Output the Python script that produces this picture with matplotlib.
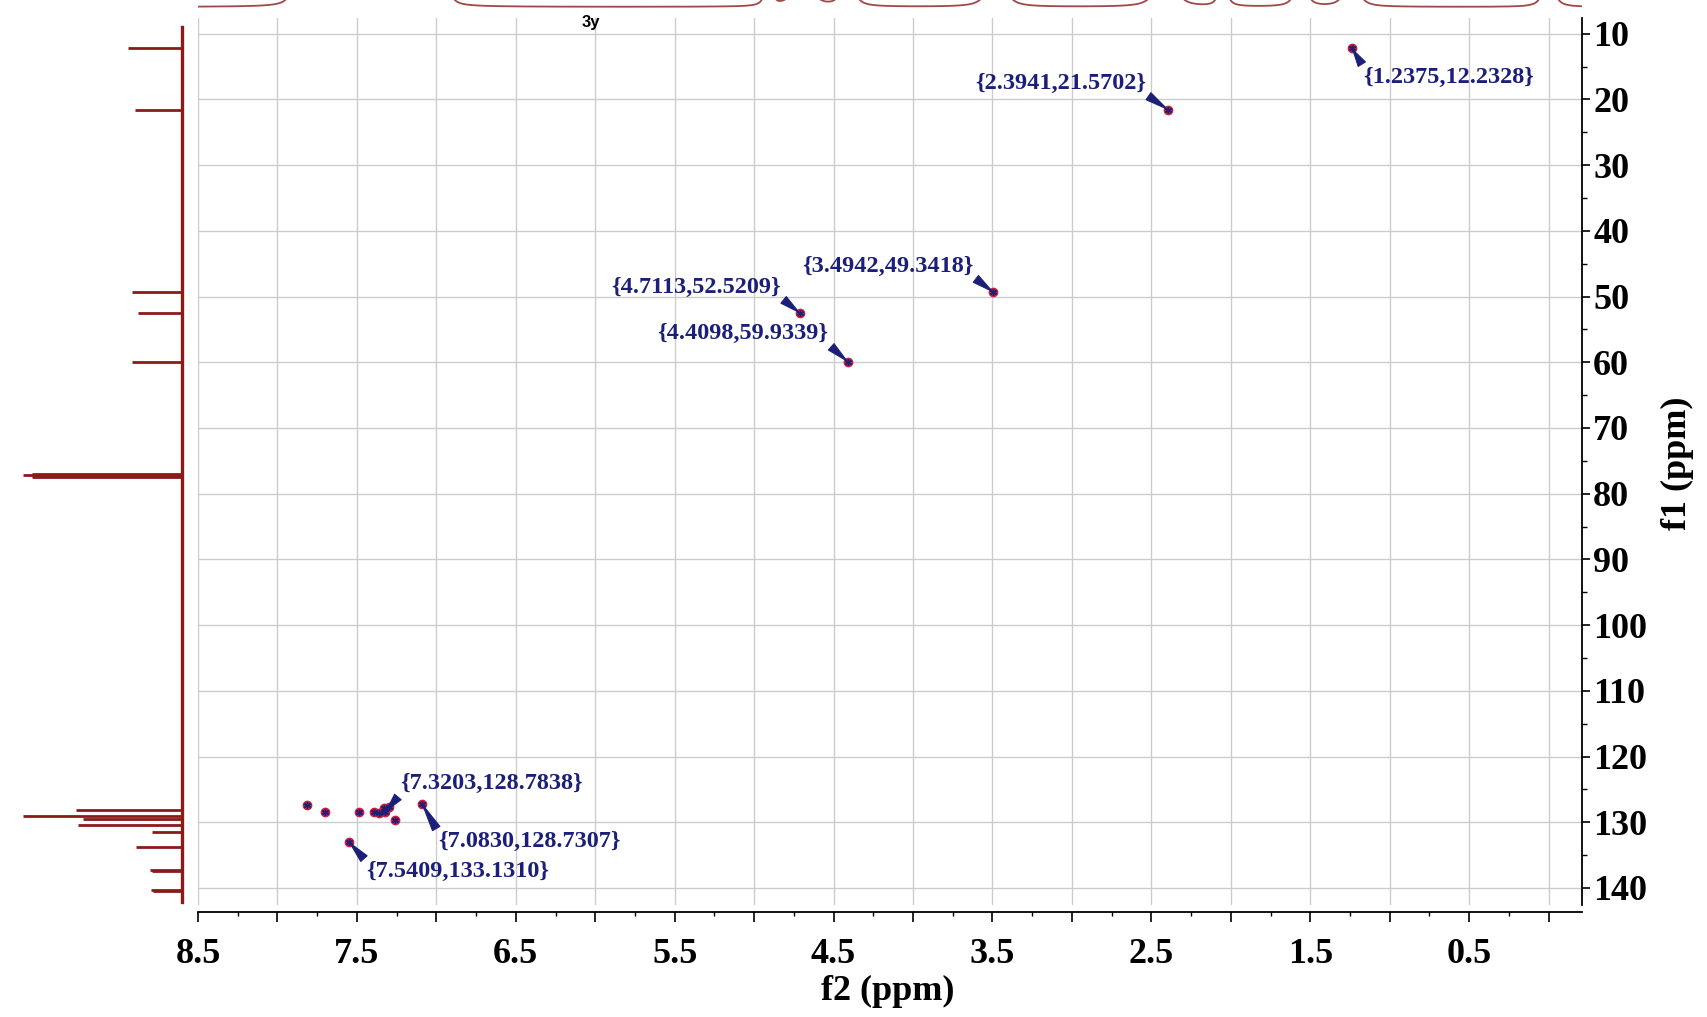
import numpy as np
import matplotlib
matplotlib.use("Agg")
import matplotlib.pyplot as plt
from matplotlib.ticker import MultipleLocator, FuncFormatter

# HSQC cross peaks: f2 = 1H shift, f1 = 13C shift (ppm)
peak_h = [1.2375, 2.3941, 3.4942, 4.7113, 4.4098,
          7.814, 7.70, 7.487, 7.39, 7.36, 7.33, 7.32, 7.30, 7.26, 7.09, 7.55]
peak_c = [12.2328, 21.5702, 49.3418, 52.5209, 59.9339,
          127.4, 128.4, 128.5, 128.4, 128.6, 127.9, 128.4, 127.7, 129.7, 127.2, 133.0]

# labelled peaks
label_text = ["{1.2375,12.2328}", "{2.3941,21.5702}", "{3.4942,49.3418}",
              "{4.7113,52.5209}", "{4.4098,59.9339}", "{7.3203,128.7838}",
              "{7.0830,128.7307}", "{7.5409,133.1310}"]
label_h = [1.2375, 2.3941, 3.4942, 4.7113, 4.4098, 7.32, 7.09, 7.55]
label_c = [12.2328, 21.5702, 49.3418, 52.5209, 59.9339, 128.4, 127.2, 133.0]

# 13C projection (left): shift and peak height
c13_shift = [12.2, 21.6, 49.3, 52.5, 59.9, 77.0, 77.2, 77.4,
             128.1, 129.1, 129.5, 130.4, 131.5, 133.8, 137.2, 137.4, 140.3, 140.5]
c13_height = [54, 47, 50, 44, 50, 150, 159, 150,
              106, 159, 99, 104, 30, 46, 32, 30, 31, 29]

# 1H projection (top): shift and peak height (peaks run off the top)
h1_shift = [7.88, 7.80, 7.70, 7.55, 7.49, 7.39, 7.33, 7.26, 7.15, 7.08, 6.95,
            4.91, 4.71, 4.68, 4.41, 3.49, 3.46, 2.43, 2.39, 2.05, 1.56, 1.24, 0.00]
h1_height = [600, 900, 900, 900, 900, 1200, 1200, 1000, 700, 900, 600,
             300, 1000, 1000, 1000, 1000, 1000, 1200, 1200, 400, 800, 1200, 800]

navy = "#1b1f7a"
dark_red = "#8b1a1a"
serif = "Liberation Serif"

fig = plt.figure(figsize=(17.08, 10.17), dpi=100)
W, H = 1708, 1017

# main 2D axes
ax = fig.add_axes([198 / W, 1 - 905 / H, 1384 / W, 887 / H])
ax.set_xlim(8.5, -0.21)
ax.set_ylim(142.6, 7.6)

for side in ["left", "top"]:
    ax.spines[side].set_visible(False)
ax.spines["right"].set_linewidth(1.3)
ax.spines["bottom"].set_linewidth(1.3)
ax.spines["bottom"].set_position(("outward", 5))

ax.yaxis.tick_right()
ax.xaxis.set_major_locator(MultipleLocator(0.5))
ax.xaxis.set_minor_locator(MultipleLocator(0.25))
ax.yaxis.set_major_locator(MultipleLocator(10))
ax.yaxis.set_minor_locator(MultipleLocator(5))
ax.xaxis.set_major_formatter(FuncFormatter(
    lambda v, p: f"{v:.1f}" if abs((v - 0.5) % 1) < 1e-6 and v > 0 else ""))
ax.yaxis.set_major_formatter(FuncFormatter(lambda v, p: f"{v:.0f}"))

ax.tick_params(axis="x", which="major", direction="out", length=7, width=1.2, pad=12)
ax.tick_params(axis="x", which="minor", direction="out", length=3, width=1.0)
ax.tick_params(axis="y", which="major", direction="out", length=6, width=1.2, pad=2)
ax.tick_params(axis="y", which="minor", direction="out", length=3.5, width=1.0)
for lab in ax.get_xticklabels() + ax.get_yticklabels():
    lab.set_fontfamily(serif)
    lab.set_fontweight("bold")
    lab.set_fontsize(26)

ax.grid(True, which="major", color="#cccccc", linewidth=1.0)
ax.set_axisbelow(True)

# cross peaks
ax.plot(peak_h, peak_c, "o", ms=6, mfc="#c8203a", mec="#c8203a", zorder=3)
ax.plot(peak_h, peak_c, ls="none", marker=(6, 2, 0), ms=5, mew=1.0, color=navy, zorder=4)

# labels with wedge arrows
offsets = [(97, -29), (-108, 26), (-106, 26), (-104, 26), (-105, 28),
           (106, 28), (107, -38), (109, -30)]
for txt, h, c, off in zip(label_text, label_h, label_c, offsets):
    relpos = (0, 1) if off[1] < 0 else ((1, 0) if off[0] < 0 else (0, 0))
    ax.annotate(txt, xy=(h, c), xytext=off, textcoords="offset pixels",
                ha="center", va="center", fontsize=17.5, fontweight="bold",
                family=serif, color=navy,
                arrowprops=dict(arrowstyle="wedge,tail_width=0.35", color=navy,
                                lw=0.8, shrinkA=0, shrinkB=1, relpos=relpos),
                zorder=5)

# left 13C projection
axl = fig.add_axes([15 / W, 1 - 905 / H, 175 / W, 887 / H])
axl.set_xlim(167, -8)
axl.set_ylim(142.6, 7.6)
axl.axis("off")
axl.axvline(0, ymin=0.003, ymax=0.99, color=dark_red, lw=2.4)
axl.hlines(c13_shift, 0, c13_height, color=dark_red, lw=2)

# top 1H projection
axt = fig.add_axes([198 / W, 1 - 14 / H, 1384 / W, 44 / H])
axt.set_xlim(8.5, -0.21)
axt.set_ylim(-7, 37)
axt.axis("off")
x = np.linspace(8.5, -0.21, 8000)
w = 0.006
spec = np.zeros_like(x)
for s, hgt in zip(h1_shift, h1_height):
    spec += hgt * w ** 2 / ((x - s) ** 2 + w ** 2)
axt.plot(x, spec, color="#a04848", lw=1.3)

fig.text(591 / W, 1 - 22 / H, "3y", ha="center", va="center",
         fontsize=12, fontweight="bold", family="Liberation Sans")
fig.text(888 / W, 1 - 991 / H, "f2 (ppm)", ha="center", va="center",
         fontsize=26, fontweight="bold", family=serif)
fig.text(1677 / W, 1 - 463 / H, "f1 (ppm)", ha="center", va="center",
         rotation=90, fontsize=26, fontweight="bold", family=serif)

fig.savefig("out.png", dpi=100)
